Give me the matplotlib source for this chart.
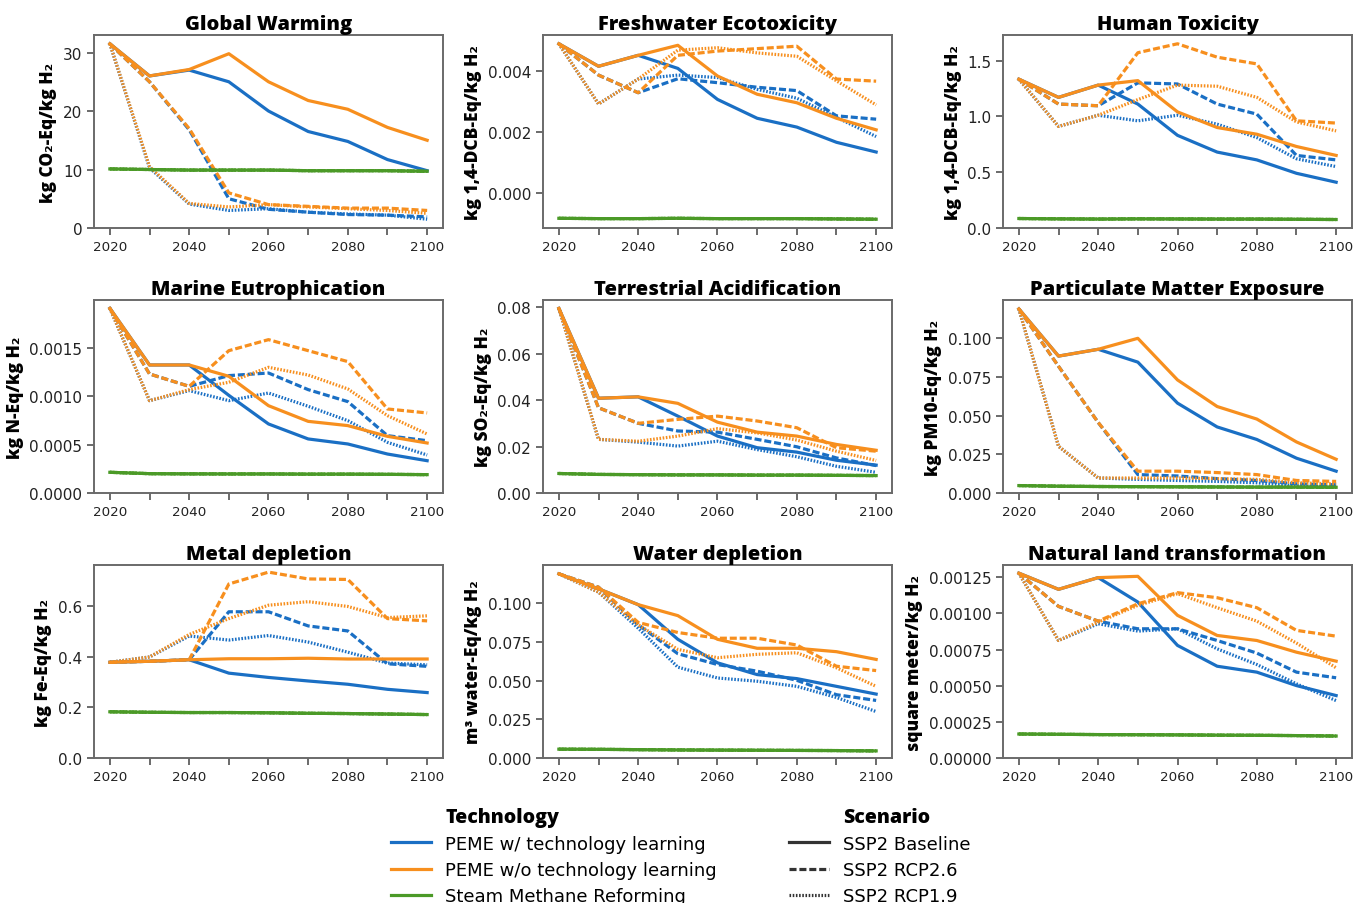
import numpy as np
import matplotlib
matplotlib.use("Agg")
import matplotlib.pyplot as plt
from matplotlib.lines import Line2D
from matplotlib.ticker import MultipleLocator

plt.rcParams['font.family'] = ['DejaVu Sans']

years = [2020, 2030, 2040, 2050, 2060, 2070, 2080, 2090, 2100]

titles = ['Global Warming', 'Freshwater Ecotoxicity', 'Human Toxicity',
          'Marine Eutrophication', 'Terrestrial Acidification', 'Particulate Matter Exposure',
          'Metal depletion', 'Water depletion', 'Natural land transformation']
ylabels = ['kg CO₂-Eq/kg H₂', 'kg 1,4-DCB-Eq/kg H₂', 'kg 1,4-DCB-Eq/kg H₂',
           'kg N-Eq/kg H₂', 'kg SO₂-Eq/kg H₂', 'kg PM10-Eq/kg H₂',
           'kg Fe-Eq/kg H₂', 'm³ water-Eq/kg H₂', 'square meter/kg H₂']

technologies = ['PEME w/ technology learning', 'PEME w/o technology learning',
                'Steam Methane Reforming']
scenarios = ['SSP2 Baseline', 'SSP2 RCP2.6', 'SSP2 RCP1.9']

# rows: baseline, rcp2.6, rcp1.9
gw_tl = [[31.5, 26.0, 27.0, 25.0, 20.0, 16.5, 14.8, 11.7, 9.8],
         [31.5, 25.0, 16.8, 5.0, 3.2, 2.7, 2.3, 2.2, 1.9],
         [31.5, 10.3, 4.1, 3.0, 3.3, 2.7, 2.4, 2.2, 1.5]]
gw_notl = [[31.5, 26.0, 27.1, 29.8, 25.0, 21.8, 20.3, 17.2, 15.0],
           [31.5, 25.0, 17.0, 6.0, 4.0, 3.7, 3.4, 3.4, 3.0],
           [31.5, 10.5, 4.2, 3.6, 4.0, 3.6, 3.3, 3.0, 2.5]]
gw_smr = [10.1, 10.0, 9.9, 9.9, 9.9, 9.8, 9.8, 9.8, 9.7]

fe_tl = [[4.90e-3, 4.16e-3, 4.52e-3, 4.09e-3, 3.07e-3, 2.45e-3, 2.16e-3, 1.66e-3, 1.34e-3],
         [4.90e-3, 3.87e-3, 3.29e-3, 3.75e-3, 3.62e-3, 3.47e-3, 3.36e-3, 2.53e-3, 2.42e-3],
         [4.90e-3, 2.92e-3, 3.74e-3, 3.87e-3, 3.79e-3, 3.40e-3, 3.11e-3, 2.48e-3, 1.85e-3]]
fe_notl = [[4.90e-3, 4.16e-3, 4.52e-3, 4.85e-3, 3.84e-3, 3.24e-3, 2.96e-3, 2.45e-3, 2.07e-3],
           [4.90e-3, 3.87e-3, 3.29e-3, 4.52e-3, 4.66e-3, 4.74e-3, 4.82e-3, 3.74e-3, 3.67e-3],
           [4.90e-3, 2.92e-3, 3.74e-3, 4.69e-3, 4.77e-3, 4.60e-3, 4.49e-3, 3.68e-3, 2.89e-3]]
fe_smr = [-0.84e-3, -0.85e-3, -0.85e-3, -0.84e-3, -0.85e-3, -0.85e-3, -0.85e-3, -0.86e-3, -0.87e-3]

ht_tl = [[1.333, 1.17, 1.28, 1.11, 0.83, 0.68, 0.61, 0.49, 0.41],
         [1.333, 1.11, 1.095, 1.30, 1.29, 1.11, 1.02, 0.65, 0.61],
         [1.333, 0.91, 1.01, 0.96, 1.01, 0.93, 0.81, 0.62, 0.55]]
ht_notl = [[1.333, 1.17, 1.28, 1.32, 1.04, 0.90, 0.84, 0.73, 0.65],
           [1.333, 1.11, 1.095, 1.57, 1.65, 1.53, 1.47, 0.96, 0.94],
           [1.333, 0.91, 1.01, 1.15, 1.28, 1.27, 1.17, 0.95, 0.87]]
ht_smr = [0.085, 0.082, 0.080, 0.082, 0.081, 0.080, 0.080, 0.078, 0.076]

me_tl = [[1.91e-3, 1.324e-3, 1.324e-3, 1.01e-3, 0.714e-3, 0.559e-3, 0.507e-3, 0.403e-3, 0.334e-3],
         [1.91e-3, 1.231e-3, 1.103e-3, 1.214e-3, 1.241e-3, 1.069e-3, 0.945e-3, 0.593e-3, 0.541e-3],
         [1.91e-3, 0.955e-3, 1.059e-3, 0.955e-3, 1.034e-3, 0.897e-3, 0.748e-3, 0.524e-3, 0.393e-3]]
me_notl = [[1.91e-3, 1.324e-3, 1.324e-3, 1.207e-3, 0.903e-3, 0.741e-3, 0.697e-3, 0.586e-3, 0.517e-3],
           [1.91e-3, 1.231e-3, 1.103e-3, 1.472e-3, 1.586e-3, 1.472e-3, 1.359e-3, 0.869e-3, 0.828e-3],
           [1.91e-3, 0.955e-3, 1.069e-3, 1.145e-3, 1.300e-3, 1.220e-3, 1.076e-3, 0.800e-3, 0.610e-3]]
me_smr = [0.214e-3, 0.200e-3, 0.198e-3, 0.197e-3, 0.197e-3, 0.195e-3, 0.195e-3, 0.193e-3, 0.190e-3]

ta_tl = [[0.0795, 0.0408, 0.0414, 0.0331, 0.0245, 0.0195, 0.0176, 0.0141, 0.0120],
         [0.0795, 0.0367, 0.0300, 0.0267, 0.0262, 0.0231, 0.0199, 0.0151, 0.0118],
         [0.0795, 0.0231, 0.0219, 0.0202, 0.0223, 0.0187, 0.0156, 0.0115, 0.0089]]
ta_notl = [[0.0795, 0.0408, 0.0414, 0.0386, 0.0305, 0.0262, 0.0245, 0.0209, 0.0184],
           [0.0795, 0.0367, 0.0300, 0.0317, 0.0331, 0.0310, 0.0281, 0.0195, 0.0180],
           [0.0795, 0.0231, 0.0223, 0.0245, 0.0277, 0.0259, 0.0228, 0.0180, 0.0140]]
ta_smr = [0.0084, 0.0080, 0.0079, 0.0078, 0.0078, 0.0077, 0.0077, 0.0076, 0.0075]

pm_tl = [[0.1190, 0.0885, 0.0929, 0.0846, 0.0581, 0.0427, 0.0346, 0.0225, 0.0141],
         [0.1190, 0.0819, 0.0456, 0.0119, 0.0110, 0.0093, 0.0081, 0.0059, 0.0053],
         [0.1190, 0.0302, 0.0097, 0.0088, 0.0081, 0.0075, 0.0066, 0.0048, 0.0037]]
pm_notl = [[0.1190, 0.0885, 0.0929, 0.1000, 0.0731, 0.0559, 0.0478, 0.0330, 0.0218],
           [0.1190, 0.0819, 0.0456, 0.0141, 0.0141, 0.0132, 0.0119, 0.0081, 0.0075],
           [0.1190, 0.0302, 0.0097, 0.0097, 0.0097, 0.0093, 0.0088, 0.0066, 0.0059]]
pm_smr = [0.0048, 0.0044, 0.0042, 0.0041, 0.0040, 0.0039, 0.0038, 0.0038, 0.0037]

md_tl = [[0.379, 0.383, 0.389, 0.336, 0.319, 0.305, 0.292, 0.272, 0.259],
         [0.379, 0.383, 0.389, 0.579, 0.579, 0.523, 0.503, 0.373, 0.363],
         [0.379, 0.400, 0.483, 0.467, 0.485, 0.459, 0.419, 0.376, 0.369]]
md_notl = [[0.379, 0.383, 0.389, 0.393, 0.393, 0.395, 0.392, 0.392, 0.392],
           [0.379, 0.383, 0.389, 0.689, 0.736, 0.709, 0.707, 0.552, 0.543],
           [0.379, 0.400, 0.489, 0.552, 0.605, 0.619, 0.600, 0.556, 0.563]]
md_smr = [0.183, 0.181, 0.180, 0.180, 0.179, 0.177, 0.176, 0.174, 0.172]

wd_tl = [[0.1190, 0.1093, 0.0991, 0.0767, 0.0615, 0.0539, 0.0513, 0.0463, 0.0413],
         [0.1190, 0.1104, 0.0861, 0.0674, 0.0604, 0.0561, 0.0502, 0.0409, 0.0372],
         [0.1190, 0.1072, 0.0839, 0.0587, 0.0517, 0.0496, 0.0463, 0.0391, 0.0300]]
wd_notl = [[0.1190, 0.1093, 0.0991, 0.0920, 0.0767, 0.0709, 0.0709, 0.0687, 0.0637],
           [0.1190, 0.1104, 0.0876, 0.0811, 0.0774, 0.0774, 0.0730, 0.0593, 0.0565],
           [0.1190, 0.1072, 0.0861, 0.0702, 0.0648, 0.0670, 0.0680, 0.0583, 0.0463]]
wd_smr = [0.0057, 0.0056, 0.0054, 0.0052, 0.0051, 0.0050, 0.0049, 0.0048, 0.0046]

nl_tl = [[1.279e-3, 1.167e-3, 1.248e-3, 1.079e-3, 0.779e-3, 0.635e-3, 0.594e-3, 0.501e-3, 0.432e-3],
         [1.279e-3, 1.049e-3, 0.947e-3, 0.894e-3, 0.894e-3, 0.813e-3, 0.726e-3, 0.594e-3, 0.555e-3],
         [1.279e-3, 0.813e-3, 0.929e-3, 0.878e-3, 0.894e-3, 0.755e-3, 0.647e-3, 0.513e-3, 0.397e-3]]
nl_notl = [[1.279e-3, 1.167e-3, 1.248e-3, 1.257e-3, 0.987e-3, 0.848e-3, 0.813e-3, 0.732e-3, 0.670e-3],
           [1.279e-3, 1.049e-3, 0.947e-3, 1.067e-3, 1.144e-3, 1.109e-3, 1.040e-3, 0.883e-3, 0.843e-3],
           [1.279e-3, 0.813e-3, 0.940e-3, 1.056e-3, 1.137e-3, 1.040e-3, 0.947e-3, 0.795e-3, 0.624e-3]]
nl_smr = [0.166e-3, 0.164e-3, 0.162e-3, 0.161e-3, 0.160e-3, 0.158e-3, 0.157e-3, 0.155e-3, 0.152e-3]

panels = [(gw_tl, gw_notl, gw_smr), (fe_tl, fe_notl, fe_smr), (ht_tl, ht_notl, ht_smr),
          (me_tl, me_notl, me_smr), (ta_tl, ta_notl, ta_smr), (pm_tl, pm_notl, pm_smr),
          (md_tl, md_notl, md_smr), (wd_tl, wd_notl, wd_smr), (nl_tl, nl_notl, nl_smr)]
ysteps = [10, 0.002, 0.5, 0.0005, 0.02, 0.025, 0.2, 0.025, 0.00025]

colors = ['#1a6fc4', '#f78f1e', '#4b9a27']
dashes = [(None, None), (2.2, 0.9), (0.5, 0.5)]
spine_col = '#6a6a6a'
bold_font = ['Open Sans', 'DejaVu Sans']

W, H = 1354, 904
fig = plt.figure(figsize=(W / 100, H / 100), dpi=100)
col_left = [94, 543, 1003]
row_top = [36, 301, 566]
ax_w, ax_h = 349, 193

for i, (tl, notl, smr) in enumerate(panels):
    r, c = divmod(i, 3)
    ax = fig.add_axes([col_left[c] / W, 1 - (row_top[r] + ax_h) / H, ax_w / W, ax_h / H])
    series = [tl, notl, [smr, smr, smr]]
    for t in range(3):
        for s in range(3):
            line, = ax.plot(years, series[t][s], color=colors[t], lw=2.3)
            if dashes[s][0] is not None:
                line.set_dashes(dashes[s])
    lo = min(min(smr), min(min(v) for v in tl), min(min(v) for v in notl))
    if lo >= 0:
        ax.set_ylim(bottom=0)
    ax.yaxis.set_major_locator(MultipleLocator(ysteps[i]))
    ax.set_xticks(years)
    ax.set_xticklabels([str(y) if (y - 2020) % 20 == 0 else '' for y in years])
    ax.tick_params(axis='x', labelsize=9.7, length=5, width=1.4, color=spine_col, labelcolor='#222222')
    ax.tick_params(axis='y', labelsize=11, length=5, width=1.4, color=spine_col, labelcolor='#222222')
    for sp in ax.spines.values():
        sp.set_color(spine_col)
        sp.set_linewidth(1.4)
    ax.set_title(titles[i], fontsize=14.5, fontweight='heavy', family=bold_font, pad=4)
    ax.set_ylabel(ylabels[i], fontsize=12.5, fontweight='heavy', family=bold_font, labelpad=4)

handles = [Line2D([], [], color='none', label='Technology')]
for t in range(3):
    handles.append(Line2D([], [], color=colors[t], lw=2.3, label=technologies[t]))
handles.append(Line2D([], [], color='none', label='Scenario'))
for s in range(3):
    h = Line2D([], [], color='#333333', lw=2.3, label=scenarios[s])
    if dashes[s][0] is not None:
        h.set_dashes(dashes[s])
    handles.append(h)

leg = fig.legend(handles=handles, ncol=2, loc='upper center', bbox_to_anchor=(0.503, 0.1246),
                 frameon=False, fontsize=13, handlelength=2.2, handletextpad=0.8,
                 columnspacing=4, labelspacing=0.45)
for txt in leg.get_texts():
    if txt.get_text() in ('Technology', 'Scenario'):
        txt.set_fontweight('heavy')
        txt.set_family(bold_font)
        txt.set_fontsize(14)

fig.savefig('out.png', dpi=100)
